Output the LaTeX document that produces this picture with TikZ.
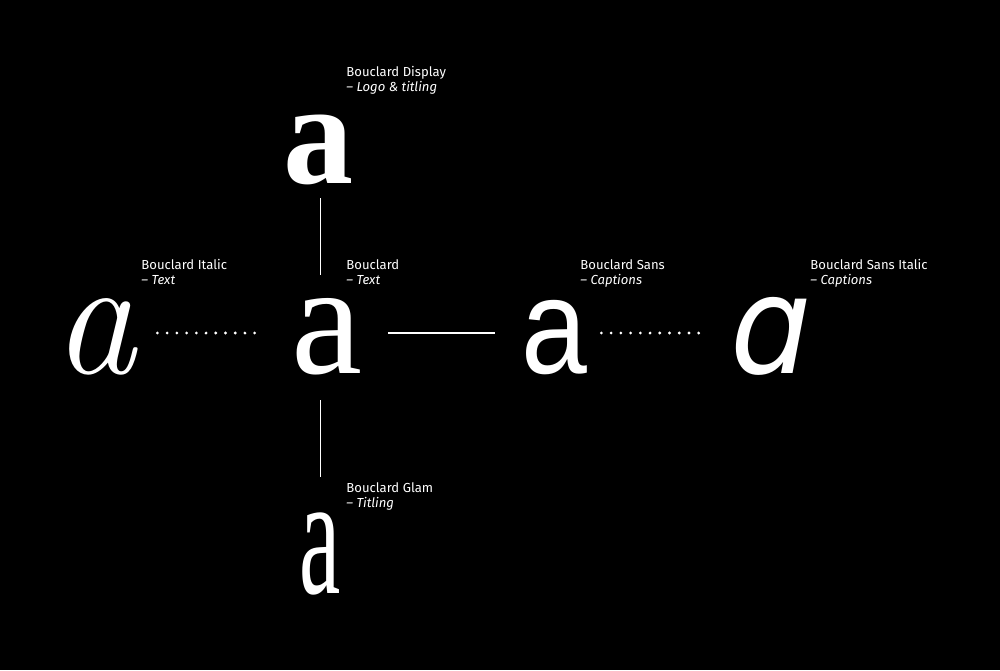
\documentclass[tikz,border=0pt]{standalone}
\usepackage{fontspec}
\usepackage{graphicx}
\newfontfamily\fira{Fira Sans}
\newfontfamily\libserif{Liberation Serif}
\newfontfamily\libsans{Liberation Sans}
\newfontfamily\djsl[FakeSlant=0.2]{DejaVu Sans}
\begin{document}
\begin{tikzpicture}[x=0.5pt,y=-0.5pt,
  lab/.style={font=\fira\fontsize{6.55}{7.5}\selectfont, text=white, align=left, inner sep=0pt, anchor=base west},
  letter/.style={text=white, inner sep=0pt, text depth=0pt, align=center, anchor=base},
  conn/.style={draw=white, line width=0.85pt},
  dots/.style={draw=white, line width=1.55pt, line cap=round, dash pattern=on 0pt off 4.864pt}]
\fill[black] (0,0) rectangle (1000,670);
\useasboundingbox (0,0) rectangle (1000,670);
% letters (px coordinates, 1px = 0.5pt)
\node[letter, text height=40pt, text width=34pt] (ctr) at (328,373)
  {\kern-1.5pt\libserif\fontsize{80}{80}\selectfont a};
\node[letter, text height=36pt, text width=33pt] (disp) at (320.5,183)
  {\kern-2pt\scalebox{0.96}[1]{\libserif\bfseries\fontsize{73}{73}\selectfont a}};
\node[letter, text height=39pt, text width=18pt] (glam) at (319,593)
  {\kern-1pt\scalebox{0.54}[1]{\libserif\fontsize{86}{86}\selectfont a}};
\node[letter, text height=40pt, text width=35.5pt] (ital) at (103.5,373)
  {\kern-9pt\scalebox{0.97}[1]{\itshape\fontsize{85}{85}\selectfont a}};
\node[letter, text height=40pt, text width=31pt] (sans) at (556,373)
  {\kern-2pt\scalebox{0.87}[1]{\libsans\fontsize{68}{68}\selectfont a}};
\node[letter, text height=40pt, text width=36pt] (sansit) at (771,373)
  {\kern-7pt\scalebox{0.94}[1]{\djsl\fontsize{68}{68}\selectfont ɑ}};
% labels
\node[lab] (lDisp) at (346,91) {Bouclard Display\\\textit{– Logo \& titling}};
\node[lab] (lItal) at (141,284) {Bouclard Italic\\\textit{– Text}};
\node[lab] (lCtr) at (346,284) {Bouclard\\\textit{– Text}};
\node[lab] (lSans) at (580,284) {Bouclard Sans\\\textit{– Captions}};
\node[lab] (lSansit) at (810,284) {Bouclard Sans Italic\\\textit{– Captions}};
\node[lab] (lGlam) at (346,507) {Bouclard Glam\\\textit{– Titling}};
% connectors
\draw[conn, shorten <=7.5pt, shorten >=9pt] (disp.south) -- (disp.south |- ctr.north);
\draw[conn, shorten <=13.5pt, shorten >=19pt] (disp.south |- ctr.south) -- (disp.south |- glam.north);
\draw[conn, shorten <=12.75pt, shorten >=15pt] (ctr.east) -- (sans.west);
\draw[dots, shorten <=9pt, shorten >=15pt] (ital.east) -- (ctr.west);
\draw[dots, shorten <=7pt, shorten >=13.5pt] (sans.east) -- (sansit.west);
\end{tikzpicture}
\end{document}
